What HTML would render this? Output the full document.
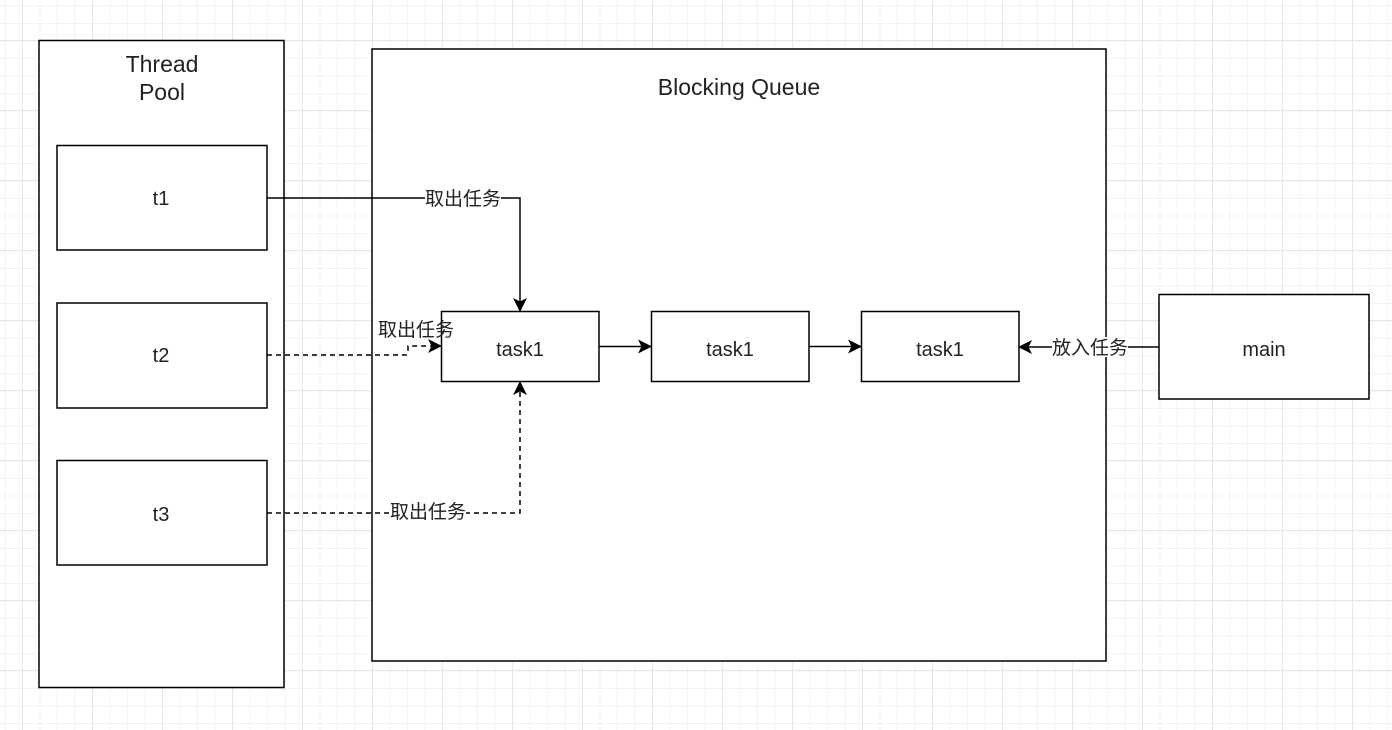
<!DOCTYPE html>
<html><head><meta charset="utf-8"><style>
html,body{margin:0;padding:0}
body{width:1392px;height:730px;overflow:hidden;position:relative;background-color:#fff;
background-image:linear-gradient(to right,#e6e6e6 1px,transparent 1px),linear-gradient(to bottom,#e6e6e6 1px,transparent 1px),linear-gradient(to right,#f3f3f3 1px,transparent 1px),linear-gradient(to bottom,#f3f3f3 1px,transparent 1px);
background-size:70px 70px,70px 70px,17.5px 17.5px,17.5px 17.5px;
background-position:22px 0,0 40px,4.5px 0,0 5.5px;}
svg{position:absolute;left:0;top:0}
text{font-family:"Liberation Sans","Noto Sans CJK SC",sans-serif;fill:#222}
</style></head><body>
<svg width="1392" height="730" viewBox="0 0 1392 730">
<defs><marker id="a" markerWidth="14" markerHeight="14" refX="13" refY="7" orient="auto" markerUnits="userSpaceOnUse"><path d="M0,0 L14,7 L0,14 L3.5,7 Z" fill="#000"/></marker></defs>
<g fill="#fff" stroke="#000" stroke-width="1.5">
<rect x="39" y="40.5" width="245" height="647"/>
<rect x="372" y="49" width="734" height="612"/>
<rect x="57" y="145.5" width="210" height="104.5"/>
<rect x="57" y="303" width="210" height="105"/>
<rect x="57" y="460.5" width="210" height="104.5"/>
<rect x="441.5" y="311.5" width="157.5" height="70"/>
<rect x="651.5" y="311.5" width="157.5" height="70"/>
<rect x="861.5" y="311.5" width="157.5" height="70"/>
<rect x="1159" y="294.5" width="210" height="104.5"/>
</g>
<g fill="none" stroke="#000" stroke-width="1.5">
<path d="M267 198 H520 V311" marker-end="url(#a)"/>
<path d="M267 355 H406 Q408 355 408 350 V346 H441" stroke-dasharray="5,4" marker-end="url(#a)"/>
<path d="M267 513 H520 V382" stroke-dasharray="5,4" marker-end="url(#a)"/>
<path d="M599 346.5 H651" marker-end="url(#a)"/>
<path d="M809 346.5 H861" marker-end="url(#a)"/>
<path d="M1159 347 H1019" marker-end="url(#a)"/>
</g>
<g fill="#fff">
<rect x="425" y="188" width="76" height="20"/>
<rect x="390" y="501" width="76" height="20"/>
<rect x="1052" y="337" width="76" height="20"/>
</g>
<g font-size="19" text-anchor="middle">
<text x="463" y="205">取出任务</text>
<text x="416" y="336">取出任务</text>
<text x="428" y="518">取出任务</text>
<text x="1090" y="354">放入任务</text>
</g>
<g font-size="23" text-anchor="middle">
<text x="162" y="72">Thread</text>
<text x="162" y="100">Pool</text>
<text x="739" y="95">Blocking Queue</text>
</g>
<g font-size="20" text-anchor="middle">
<text x="161" y="205">t1</text>
<text x="161" y="362">t2</text>
<text x="161" y="521">t3</text>
<text x="520" y="356">task1</text>
<text x="730" y="356">task1</text>
<text x="940" y="356">task1</text>
<text x="1264" y="356">main</text>
</g>
</svg>
</body></html>
